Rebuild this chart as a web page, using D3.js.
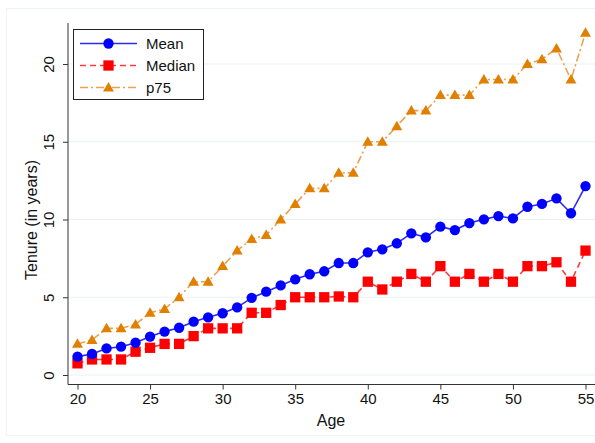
<!DOCTYPE html>
<html><head><meta charset="utf-8">
<script src="https://cdn.jsdelivr.net/npm/d3@7"></script>
<style>html,body{margin:0;padding:0;background:#fff;}svg{display:block;font-family:"Liberation Sans",Arial,sans-serif;}</style>
</head><body>
<svg id="c" width="595" height="443"></svg>
<script>
const ages = d3.range(20, 56);
const meanVals = [1.18,1.35,1.71,1.82,2.08,2.47,2.79,3.04,3.43,3.71,3.97,4.35,4.96,5.36,5.76,6.15,6.48,6.67,7.2,7.2,7.89,8.08,8.47,9.11,8.85,9.54,9.32,9.77,10.01,10.22,10.07,10.82,11.0,11.36,10.4,12.15];
const medianVals = [0.75,1,1,1,1.5,1.75,2,2,2.5,3,3,3,4,4,4.5,5,5,5,5.05,5,6,5.5,6,6.5,6,7,6,6.5,6,6.5,6,7,7,7.25,6,8];
const p75Vals = [2,2.25,3,3,3.25,4,4.25,5,6,6,7,8,8.75,9,10,11,12,12,13,13,15,15,16,17,17,18,18,18,19,19,19,20,20.3,21,19,22];
const xTicks = [20,25,30,35,40,45,50,55];
const yTicks = [0,5,10,15,20];
const seriesNames = ["Mean","Median","p75"];

const svg = d3.select("#c");
const x = d3.scaleLinear().domain([20,55]).range([77.5,585.5]);
const y = d3.scaleLinear().domain([0,20]).range([375,64]);
const pLeft = 68, pBottom = 384.5, pTop = 23, pRight = 595;

// faint outer frame
svg.append("rect").attr("x",6.5).attr("y",8.5).attr("width",600).attr("height",427)
  .attr("fill","none").attr("stroke","#eef3f5").attr("stroke-width",1);

// gridlines
svg.append("g").selectAll("line").data(yTicks).join("line")
  .attr("x1",pLeft).attr("x2",pRight).attr("y1",d=>y(d)).attr("y2",d=>y(d))
  .attr("stroke","#eaf1f2").attr("stroke-width",1.2);

// axes
const xAxis = svg.append("g").attr("transform",`translate(0,${pBottom})`)
  .call(d3.axisBottom(x).tickValues(xTicks).tickSize(5).tickPadding(4).tickFormat(d3.format("d")));
xAxis.select(".domain").attr("d",`M${pLeft},0H${pRight}`).attr("stroke","#333");
xAxis.selectAll(".tick line").attr("stroke","#333");
xAxis.selectAll("text").attr("font-size",15).attr("fill","#111").attr("font-family","Liberation Sans, Arial, sans-serif");

const yAxis = svg.append("g").attr("transform",`translate(${pLeft},0)`)
  .call(d3.axisLeft(y).tickValues(yTicks).tickSize(5).tickFormat(d3.format("d")));
yAxis.select(".domain").attr("d",`M0,${pTop}V${pBottom}`).attr("stroke","#333");
yAxis.selectAll(".tick line").attr("stroke","#333");
yAxis.selectAll(".tick text").attr("font-size",15).attr("fill","#111")
  .attr("font-family","Liberation Sans, Arial, sans-serif")
  .attr("text-anchor","middle").attr("x",0).attr("y",0).attr("dy",null)
  .attr("transform","translate(-20,0) rotate(-90)")
  .attr("dominant-baseline","central");

// titles
svg.append("text").attr("x",331).attr("y",426).attr("text-anchor","middle")
  .attr("font-size",16).attr("fill","#111").text("Age");
svg.append("text").attr("transform","translate(37,220) rotate(-90)").attr("text-anchor","middle")
  .attr("font-size",16).attr("fill","#111").text("Tenure (in years)");

const series = [
  {name:seriesNames[0], vals:meanVals, color:"#0000ff", line:"#2a2af0", dash:null, marker:"circle"},
  {name:seriesNames[1], vals:medianVals, color:"#ff0000", line:"#ff3838", dash:"6,4", marker:"square"},
  {name:seriesNames[2], vals:p75Vals, color:"#e17f00", line:"#eda050", dash:"8,3,2,3", marker:"triangle"}
];
const sym = {circle:d3.symbol(d3.symbolCircle,84), square:d3.symbol(d3.symbolSquare,106), triangle:d3.symbol(d3.symbolTriangle,52)};

const line = d3.line().x(d=>x(d[0])).y(d=>y(d[1]));
series.slice().reverse().forEach(s=>{
  const pts = ages.map((a,i)=>[a,s.vals[i]]);
  svg.append("path").attr("d",line(pts)).attr("fill","none")
    .attr("stroke",s.line).attr("stroke-width",1.6)
    .attr("stroke-dasharray",s.dash);
  svg.append("g").selectAll("path").data(pts).join("path")
    .attr("d",sym[s.marker]).attr("fill",s.color)
    .attr("transform",d=>`translate(${x(d[0])},${y(d[1]) + (s.marker==="triangle"?0.8:0)})`);
});

// legend
const lg = svg.append("g");
lg.append("rect").attr("x",73.5).attr("y",29.5).attr("width",130).attr("height",70)
  .attr("fill","#fff").attr("stroke","#222").attr("stroke-width",1);
series.forEach((s,i)=>{
  const yy = 43.5 + i*22;
  lg.append("line").attr("x1",80).attr("x2",137).attr("y1",yy).attr("y2",yy)
    .attr("stroke",s.line).attr("stroke-width",1.6).attr("stroke-dasharray",s.dash);
  lg.append("path").attr("d",sym[s.marker]).attr("fill",s.color)
    .attr("transform",`translate(108.5,${yy + (s.marker==="triangle"?0.8:0)})`);
  lg.append("text").attr("x",146).attr("y",yy).attr("dominant-baseline","central")
    .attr("font-size",15).attr("fill","#111").text(s.name);
});
</script>
</body></html>
